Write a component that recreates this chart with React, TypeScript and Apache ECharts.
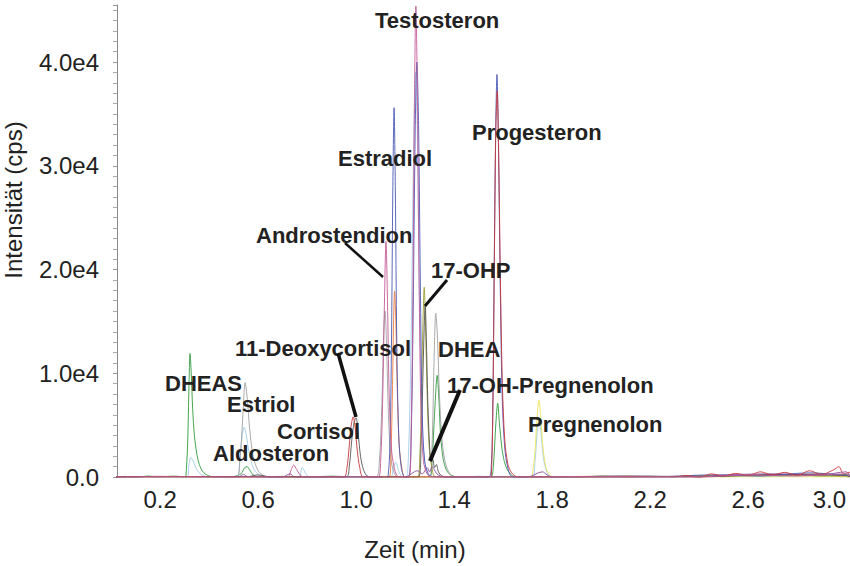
import React, { useEffect, useRef } from "react";
import * as echarts from "echarts";

// x tick labels (min) and y tick values (cps)
const xTicks = [0.2, 0.6, 1.0, 1.4, 1.8, 2.2, 2.6, 3.0];
const yTicks = [0, 10000, 20000, 30000, 40000];

// Traces: [time (min), intensity (cps)]
const greenTrace = [
  [0.02, 0], [0.06, 60], [0.1, -60], [0.15, 90], [0.2, 0], [0.25, 80], [0.29, 0], [0.3, -700], [0.305, 0],
  [0.312, 3000], [0.318, 9000], [0.322, 11900], [0.327, 10000], [0.333, 6500], [0.34, 4000], [0.35, 2200],
  [0.36, 1200], [0.375, 500], [0.395, 150], [0.42, 0], [0.5, 50], [0.53, 300], [0.545, 900], [0.555, 1000],
  [0.565, 700], [0.58, 200], [0.6, 0], [0.7, 60], [0.8, 0], [0.9, 80], [1.0, 0], [1.1, 50], [1.2, 0], [1.3, 0],
  [1.31, 1500], [1.32, 6000], [1.331, 9800], [1.338, 7500], [1.345, 4000], [1.355, 1800], [1.37, 600],
  [1.39, 150], [1.42, 0], [1.5, 60], [1.55, 0], [1.56, 1000], [1.57, 5000], [1.578, 7100], [1.585, 5200],
  [1.595, 2800], [1.605, 1500], [1.615, 800], [1.63, 300], [1.65, 0], [1.8, 50], [1.9, 0], [2.0, 80],
  [2.1, 0], [2.2, 60], [2.3, 0], [2.4, 120], [2.5, 30], [2.6, 150], [2.7, 60], [2.8, 200], [2.9, 80],
  [3.0, 250], [3.02, 100]
];

const lightBlueTrace = [
  [0.02, 0], [0.1, 40], [0.2, 0], [0.31, 0], [0.318, 1200], [0.325, 1900], [0.335, 1500], [0.35, 700],
  [0.37, 200], [0.4, 0], [0.515, 0], [0.525, 1500], [0.535, 4000], [0.543, 4800], [0.552, 4000],
  [0.562, 2500], [0.575, 1200], [0.59, 500], [0.61, 100], [0.63, 0], [0.765, 0], [0.78, 900], [0.795, 300],
  [0.81, 0], [1.14, 0], [1.152, 900], [1.162, 1400], [1.175, 500], [1.19, 0], [1.205, 0], [1.215, 3000],
  [1.225, 14000], [1.235, 32000], [1.243, 39000], [1.25, 33000], [1.258, 18000], [1.268, 6000],
  [1.278, 1800], [1.29, 400], [1.31, 0], [1.72, 0], [1.73, 1500], [1.74, 4500], [1.747, 5500],
  [1.755, 4200], [1.765, 1800], [1.78, 400], [1.8, 0], [2.0, 40], [2.3, 0], [2.5, 100], [2.7, 50],
  [2.9, 150], [3.02, 0]
];

const grayTrace = [
  [0.02, 0], [0.15, 50], [0.3, 0], [0.51, 0], [0.525, 1500], [0.538, 6000], [0.547, 9100], [0.556, 7500],
  [0.566, 4500], [0.58, 2000], [0.6, 600], [0.625, 100], [0.65, 0], [0.9, 0], [1.08, 0], [1.095, 1500],
  [1.105, 7000], [1.113, 14000], [1.118, 16000], [1.124, 13000], [1.132, 6000], [1.142, 1800],
  [1.155, 400], [1.17, 0], [1.3, 0], [1.31, 3000], [1.318, 11000], [1.325, 15800], [1.332, 13500],
  [1.34, 8000], [1.35, 3800], [1.362, 1600], [1.378, 500], [1.4, 0], [1.8, 0], [2.2, 80], [2.5, 50],
  [2.75, 250], [2.95, 150], [3.02, 0]
];

const pinkTrace = [
  [0.02, 0], [0.2, 30], [0.5, 0], [0.72, 0], [0.735, 700], [0.745, 1150], [0.758, 700], [0.775, 100],
  [0.79, 0], [1.09, 0], [1.1, 1500], [1.108, 7000], [1.115, 16000], [1.122, 22700], [1.128, 17000],
  [1.135, 8000], [1.145, 2500], [1.16, 500], [1.175, 0], [1.215, 0], [1.225, 5000], [1.232, 18000],
  [1.238, 36000], [1.244, 45400], [1.25, 37000], [1.257, 19000], [1.265, 6000], [1.275, 1500],
  [1.29, 300], [1.31, 0], [1.6, 0], [2.0, 60], [2.4, 0], [2.6, 200], [2.8, 100], [3.0, 300], [3.02, 0]
];

const redTrace = [
  [0.02, 0], [0.3, 40], [0.6, 0], [0.95, 0], [0.962, 800], [0.972, 3000], [0.98, 5000], [0.988, 5800],
  [0.996, 4800], [1.005, 2500], [1.015, 900], [1.03, 0], [1.5, 0], [1.535, 0], [1.545, -800],
  [1.552, 200], [1.558, 6000], [1.564, 20000], [1.57, 33000], [1.576, 37200], [1.582, 31000],
  [1.589, 19000], [1.597, 9000], [1.607, 3500], [1.62, 1200], [1.635, 400], [1.66, 0], [2.0, 0],
  [2.3, 0], [2.35, 150], [2.4, -50], [2.45, 300], [2.5, 100], [2.55, 350], [2.6, 150], [2.65, 500],
  [2.7, 200], [2.75, 450], [2.8, 150], [2.85, 600], [2.9, 250], [2.95, 700], [2.97, 1000],
  [2.99, 300], [3.02, 500]
];

const blueTrace = [
  [0.02, 0], [0.4, 40], [0.8, 0], [1.1, 0], [1.118, -600], [1.13, 0], [1.138, 3000], [1.144, 12000],
  [1.15, 28000], [1.155, 35600], [1.16, 28000], [1.166, 13000], [1.174, 4000], [1.185, 800], [1.2, 0],
  [1.215, 0], [1.225, 4000], [1.233, 16000], [1.241, 33000], [1.248, 40000], [1.255, 34000],
  [1.262, 19000], [1.27, 6000], [1.28, 1500], [1.295, 300], [1.31, 0], [1.54, 0], [1.552, 1200],
  [1.558, 7000], [1.564, 21000], [1.57, 34000], [1.575, 38800], [1.581, 32000], [1.588, 19000],
  [1.596, 8000], [1.606, 3000], [1.62, 800], [1.64, 0], [2.2, 0], [2.45, 200], [2.65, 100],
  [2.85, 400], [3.02, 100]
];

const orangeTrace = [
  [0.02, 0], [0.5, 30], [1.0, 0], [1.135, 0], [1.142, 2000], [1.148, 8000], [1.153, 15000],
  [1.157, 17900], [1.162, 15000], [1.168, 8500], [1.176, 3000], [1.188, 700], [1.2, 0], [2.0, 0],
  [2.6, 150], [2.9, 300], [3.02, 0]
];

const oliveTrace = [
  [0.02, 0], [1.25, 0], [1.26, 2000], [1.267, 8000], [1.273, 15000], [1.278, 18300], [1.283, 15000],
  [1.29, 8000], [1.298, 3000], [1.31, 800], [1.325, 0], [2.0, 0], [2.8, 150], [3.02, 0]
];

const yellowTrace = [
  [0.02, 0], [1.71, 0], [1.72, 300], [1.73, 2500], [1.74, 6200], [1.746, 7400], [1.753, 6000],
  [1.762, 3000], [1.775, 900], [1.79, 200], [1.81, 0], [3.02, 0]
];

const darkGrayTrace = [
  [0.02, 0], [0.2, 60], [0.4, 0], [0.55, 0], [0.6, 200], [0.65, 0], [0.96, 0], [0.972, 1000],
  [0.982, 3500], [0.992, 5300], [1.0, 5700], [1.008, 4300], [1.018, 2000], [1.03, 700], [1.045, 100],
  [1.06, 0], [1.255, 0], [1.265, 3000], [1.272, 9000], [1.278, 14500], [1.282, 16500], [1.287, 13000],
  [1.293, 7000], [1.3, 3000], [1.306, 1500], [1.313, 1700], [1.32, 900], [1.328, 1200], [1.336, 500],
  [1.35, 100], [1.37, 0], [1.8, 0], [2.1, 100], [2.4, 0], [2.7, 250], [3.0, 150], [3.02, 0]
];

const purpleTrace = [
  [0.02, 0], [0.3, 0], [0.52, 0], [0.54, 250], [0.56, 0], [0.7, 0], [0.73, 300], [0.75, 0], [1.2, 0],
  [1.25, 600], [1.27, 300], [1.29, 900], [1.3, 500], [1.31, 1000], [1.33, 300], [1.36, 0], [1.7, 0],
  [1.76, 500], [1.78, 200], [1.8, 0], [2.4, 0], [2.5, 200], [2.7, 300], [2.9, 200], [3.0, 500], [3.02, 0]
];

const traces = [
  { name: "green", data: greenTrace, color: "#2f9a3c" },
  { name: "lightblue", data: lightBlueTrace, color: "#9fcbe6" },
  { name: "gray", data: grayTrace, color: "#a0a0a0" },
  { name: "orange", data: orangeTrace, color: "#ec7a3a" },
  { name: "olive", data: oliveTrace, color: "#9a9a30" },
  { name: "yellow", data: yellowTrace, color: "#ece45a" },
  { name: "darkgray", data: darkGrayTrace, color: "#555555" },
  { name: "purple", data: purpleTrace, color: "#8a4c9c" },
  { name: "blue", data: blueTrace, color: "#4a58b4" },
  { name: "red", data: redTrace, color: "#c8363a" },
  { name: "pink", data: pinkTrace, color: "#c45a96" }
];

// Peak annotations: [label, left x, center y]
const peakLabels: [string, number, number][] = [
  ["Testosteron", 375, 20],
  ["Progesteron", 472, 132],
  ["Estradiol", 338, 158],
  ["Androstendion", 256, 235],
  ["17-OHP", 431, 270],
  ["11-Deoxycortisol", 235, 348],
  ["DHEA", 438, 349],
  ["DHEAS", 165, 383],
  ["17-OH-Pregnenolon", 447, 385],
  ["Estriol", 227, 404],
  ["Cortisol", 277, 431],
  ["Pregnenolon", 528, 424],
  ["Aldosteron", 213, 453]
];

// Leader lines: [x1, y1, x2, y2, width]
const leaders: [number, number, number, number, number][] = [
  [345, 243, 383, 277, 2.5],
  [447, 280, 425, 306, 3],
  [338, 353, 356, 417, 3.5],
  [460, 390, 430, 461, 4]
];

export default function App() {
  const ref = useRef<HTMLDivElement>(null);
  useEffect(() => {
    if (!ref.current) return;
    const chart = echarts.init(ref.current, undefined, { renderer: "svg" });
    const font = "'Liberation Sans', Arial, Helvetica, sans-serif";
    const graphics: any[] = [];
    peakLabels.forEach(([t, x, y]) => {
      graphics.push({
        type: "text",
        x,
        y,
        z: 100,
        style: {
          text: t,
          font: `bold 22px ${font}`,
          fill: "#222",
          textAlign: "left",
          textVerticalAlign: "middle"
        }
      });
    });
    leaders.forEach(([x1, y1, x2, y2, w]) => {
      graphics.push({
        type: "line",
        z: 100,
        shape: { x1, y1, x2, y2 },
        style: { stroke: "#111", lineWidth: w }
      });
    });
    graphics.push({
      type: "text",
      x: 415,
      y: 549,
      style: {
        text: "Zeit (min)",
        font: `24px ${font}`,
        fill: "#222",
        textAlign: "center",
        textVerticalAlign: "middle"
      }
    });
    graphics.push({
      type: "text",
      x: 13,
      y: 200,
      rotation: Math.PI / 2,
      style: {
        text: "Intensität (cps)",
        font: `24px ${font}`,
        fill: "#222",
        textAlign: "center",
        textVerticalAlign: "middle"
      }
    });

    chart.setOption({
      animation: false,
      backgroundColor: "#ffffff",
      grid: { left: 117, right: 0, top: 5, bottom: 89, containLabel: false, outerBoundsMode: "none" },
      xAxis: {
        type: "value",
        min: 0.024,
        max: 3.016,
        axisLine: { show: false },
        axisTick: { show: false },
        splitLine: { show: false },
        axisLabel: {
          customValues: xTicks,
          formatter: (v: number) => v.toFixed(1),
          fontSize: 24,
          fontFamily: font,
          color: "#222",
          margin: 10,
          hideOverlap: false,
          alignMaxLabel: "right"
        }
      },
      yAxis: {
        type: "value",
        min: 0,
        max: 45500,
        interval: 10000,
        axisLine: { show: true, lineStyle: { color: "#8a8a8a", width: 1 } },
        axisTick: { show: true, length: 4, lineStyle: { color: "#999" } },
        minorTick: { show: true, splitNumber: 10, length: 4, lineStyle: { color: "#aaa" } },
        splitLine: { show: false },
        axisLabel: {
          customValues: yTicks,
          formatter: (v: number) => (v === 0 ? "0.0" : (v / 10000).toFixed(1) + "e4"),
          fontSize: 24,
          fontFamily: font,
          color: "#222",
          margin: 18
        }
      },
      series: traces.map((tr) => ({
        type: "line",
        name: tr.name,
        data: tr.data,
        showSymbol: false,
        smooth: 0.3,
        clip: true,
        lineStyle: { color: tr.color, width: 0.9 },
        itemStyle: { color: tr.color }
      })),
      graphic: graphics
    });
    return () => chart.dispose();
  }, []);
  return (
    <div
      ref={ref}
      style={{ position: "fixed", left: 0, top: 0, width: 850, height: 566, background: "#fff" }}
    />
  );
}
